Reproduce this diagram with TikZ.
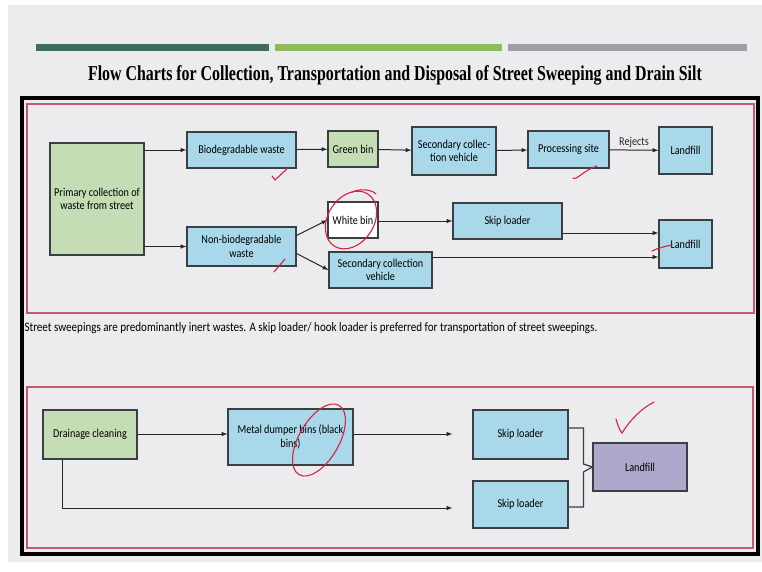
\documentclass[tikz,border=0pt]{standalone}
\usepackage{fontspec}
\setmainfont{Carlito}[FakeStretch=0.85]
\newfontfamily\titlefont{Liberation Serif}[FakeStretch=0.75]
\usetikzlibrary{calc}
\definecolor{pagebg}{HTML}{ECECEE}
\definecolor{barone}{HTML}{3F6E5E}
\definecolor{bartwo}{HTML}{8EBC5C}
\definecolor{barthree}{HTML}{9C9FA4}
\definecolor{boxline}{HTML}{3A3F44}
\definecolor{bluefill}{HTML}{A8D8EA}
\definecolor{greenfill}{HTML}{C4DDB5}
\definecolor{purplefill}{HTML}{ADA7CC}
\definecolor{panelred}{HTML}{C25A6E}
\definecolor{redink}{HTML}{D9203C}

\begin{document}
\begin{tikzpicture}[x=1pt, y=-1pt, line width=1pt,
        main/.style = {draw=boxline, line width=1.2pt, align=center, inner sep=1pt, font=\fontsize{12}{13.5}\selectfont},
        bluebox/.style = {main, fill=bluefill},
        greenbox/.style = {main, fill=greenfill},
        arr/.style = {-latex, line width=1pt, black!85},
        ink/.style = {redink, line width=1.1pt, line cap=round}]
            \useasboundingbox (0,0) rectangle (762,571);
            \fill[white] (0,0) rectangle (762,571);
            \fill[pagebg] (8,5) rectangle (762,562);
            \fill[barone] (36,44) rectangle (269,51);
            \fill[bartwo] (275,44) rectangle (502,51);
            \fill[barthree] (508,44) rectangle (747,51);
            \node (title) at (395,75) {\titlefont\bfseries\fontsize{21.2}{23}\selectfont Flow Charts for Collection, Transportation and Disposal of Street Sweeping and Drain Silt};
            \draw[black, line width=3.5pt] (22,98) rectangle (758,554);
            \draw[panelred, line width=1.1pt] (27,104) rectangle (754,313);
            \draw[panelred, line width=1.1pt] (27,387) rectangle (753,548);

            \node[greenbox, minimum width=94, minimum height=112] (prim) at (97,199) {Primary collection of\\waste from street};
            \node[bluebox, minimum width=109, minimum height=36] (bio) at (241.5,150) {Biodegradable waste};
            \node[greenbox, minimum width=50, minimum height=36] (gbin) at (353,149) {Green bin};
            \node[bluebox, minimum width=84, minimum height=48] (sec) at (454,151) {Secondary collec-\\tion vehicle};
            \node[bluebox, minimum width=81, minimum height=37] (proc) at (568.5,149.5) {Processing site};
            \node[bluebox, minimum width=53, minimum height=47] (land) at (685.5,150.5) {Landfill};
            \node[main, fill=white, minimum width=50, minimum height=36] (wbin) at (353,220) {White bin};
            \node[bluebox, minimum width=109, minimum height=39] (nonbio) at (241.5,246.5) {Non-biodegradable\\waste};
            \node[bluebox, minimum width=103, minimum height=36] (sectwo) at (380.5,270) {Secondary collection\\vehicle};
            \node[bluebox, minimum width=109, minimum height=36] (skip) at (507.5,221) {Skip loader};
            \node[bluebox, minimum width=53, minimum height=48] (landtwo) at (685.5,244) {Landfill};

            \draw[arr] (prim.east |- bio) to (bio);
            \draw[arr] (prim.east |- nonbio) to (nonbio);
            \draw[arr] (bio) to (gbin);
            \draw[arr] (gbin) to (sec);
            \draw[arr] (sec) to (proc);
            \draw[arr] (proc) to node[above, inner sep=2pt, font=\fontsize{12}{13}\selectfont] {Rejects} (land);
            \draw[arr] ([yshift=11pt]nonbio.east) to (wbin.west);
            \draw[arr] ([yshift=-7pt]nonbio.east) to (sectwo.west);
            \draw[arr] (wbin.east |- skip) to (skip);
            \draw[arr] ([yshift=-12pt]skip.east) to ([yshift=-12pt]skip.east -| landtwo.west);
            \draw[arr] ([yshift=13pt]sectwo.east) to ([yshift=13pt]sectwo.east -| landtwo.west);

            \node[anchor=west, inner sep=0pt, font=\fontsize{13}{14}\selectfont] (note) at (24,328) {Street sweepings are predominantly inert wastes. A skip loader/ hook loader is preferred for transportation of street sweepings.};

            \node[greenbox, minimum width=94, minimum height=49] (drain) at (90,434.5) {Drainage cleaning};
            \node[bluebox, minimum width=125, minimum height=56] (metal) at (290.5,437) {Metal dumper bins (black\\bins)};
            \node[bluebox, minimum width=95, minimum height=49] (skipa) at (520.5,434.5) {Skip loader};
            \node[bluebox, minimum width=95, minimum height=47] (skipb) at (520.5,504.5) {Skip loader};
            \node[main, fill=purplefill, minimum width=94, minimum height=48] (landthree) at (640,467) {Landfill};

            \draw[arr] (drain.east |- 0,434) to (metal.west |- 0,434);
            \draw[arr, shorten >=20pt] (metal.east |- 0,434) to (skipa.west |- 0,434);
            \draw[arr, shorten >=20pt] ([xshift=-28pt]drain.south) |- ([yshift=-3.5pt]skipb.west);
            \draw[boxline, line width=1.2pt] ([yshift=6.5pt]skipa.east) -| ([xshift=-9pt, yshift=3pt]landthree.west) -- (landthree.west) -- ([xshift=-9pt, yshift=-5pt]landthree.west) |- ([yshift=-2.5pt]skipb.east);

            \draw[ink] (272,176) -- (275,180) -- (288,168);
            \draw[ink] (274,272) -- (285,259);
            \draw[ink, rotate around={57:(351,220)}] (351,220) ellipse [x radius=31, y radius=23];
            \draw[ink] (352,192) .. controls (362,188) and (372,190) .. (376,194);
            \draw[ink] (573,178) .. controls (576,181) and (584,170) .. (597,166);
            \draw[ink] (652,251) .. controls (658,248) and (666,246) .. (672,245);
            \draw[ink, rotate around={60:(319,440)}] (319,440) ellipse [x radius=40, y radius=20];
            \draw[ink] (616,419) .. controls (618,426) and (620,431) .. (622,433) .. controls (630,420) and (642,408) .. (654,402);
        \end{tikzpicture}
\end{document}
